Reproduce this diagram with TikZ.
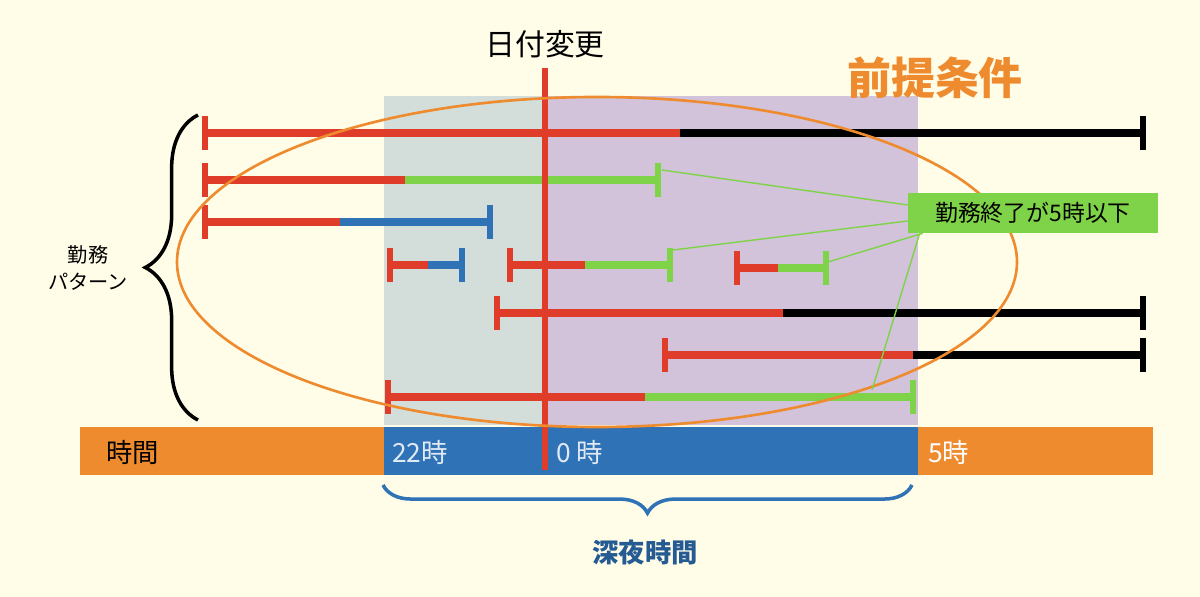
\documentclass[tikz,border=0pt]{standalone}
\usepackage{fontspec}
\setmainfont{Noto Sans CJK JP}
\usetikzlibrary{decorations.pathreplacing}
\definecolor{bg}{HTML}{FFFDE8}
\definecolor{rd}{HTML}{E03C2A}
\definecolor{gr}{HTML}{7ED348}
\definecolor{bl}{HTML}{2F72B6}
\definecolor{og}{HTML}{EE8B2F}
\definecolor{zoneA}{HTML}{D3DEDA}
\definecolor{zoneB}{HTML}{D3C3DA}
\tikzset{seg/.style={line width=4.5pt},tick/.style={line width=3pt},
 lbl/.style={font=\fontsize{15}{15}\selectfont}}
% \wbar{y}{x0}{x1}{x2}{colour}
\newcommand{\wbar}[5]{%
 \draw[seg,rd] (#2,#1) -- (#3,#1);
 \draw[seg,#5] (#3,#1) -- (#4,#1);
 \draw[tick,rd] (#2,#1-17) -- (#2,#1+17);
 \draw[tick,#5] (#4,#1-17) -- (#4,#1+17);}
\begin{document}
\begin{tikzpicture}[x=0.02cm,y=-0.02cm]
\fill[bg] (0,0) rectangle (1200,597);
\fill[zoneA] (384,96) rectangle (545,425);
\fill[zoneB] (545,96) rectangle (918,425);
\fill[og] (80,427) rectangle (1153,475);
\fill[bl] (384,427) rectangle (918,475);
\node[lbl,anchor=west] (jikan) at (100,452) {時間};
\node[lbl,anchor=west,text=white!85!bl] (t22) at (386,452) {22時};
\node[lbl,anchor=west,text=white!85!bl] (t0) at (550,452) {0 時};
\node[lbl,anchor=west,text=white] (t5) at (922,452) {5時};
\wbar{133}{205}{680}{1143}{black}
\wbar{180}{205}{405}{658}{gr}
\wbar{222}{205}{340}{490}{bl}
\wbar{265}{390}{428}{462}{bl}
\wbar{265}{510}{585}{670}{gr}
\wbar{268}{737}{778}{826}{gr}
\wbar{313}{497}{783}{1143}{black}
\wbar{355}{665}{913}{1143}{black}
\wbar{397}{388}{645}{913}{gr}
\draw[rd,line width=3pt] (545,68) -- (545,470);
\node[font=\fontsize{17}{17}\selectfont] (hiduke) at (545,44) {日付変更};
\draw[og,line width=1.5pt] (597,262) ellipse [x radius=420, y radius=165];
\node[font=\fontsize{25}{25}\selectfont\bfseries,text=og] (zentei) at (935,78) {前提条件};
\node[fill=gr,minimum width=250*0.02cm,minimum height=40*0.02cm,inner sep=2pt,
 font=\fontsize{13}{13}\selectfont] (box) at (1033,213) {勤務終了が5時以下};
\draw[gr,line width=0.8pt] (box.west) ++(0,-8) -- (662,170);
\draw[gr,line width=0.8pt] (box.west) ++(0,8) -- (673,250);
\draw[gr,line width=0.8pt] (box.south west) ++(15,0) -- (828,262);
\draw[gr,line width=0.8pt] (box.south west) ++(12,0) -- (872,390);
\draw[line width=2pt,decorate,decoration={brace,amplitude=30pt}] (198,420) -- (198,115);
\node[font=\fontsize{11.5}{15}\selectfont,align=center] (kinmu) at (88,268) {勤務\\パターン};
\draw[bl,line width=2pt,decorate,decoration={brace,amplitude=16pt}] (912,485) -- (383,485);
\node[font=\fontsize{15}{15}\selectfont\bfseries,text=bl!80!black] (shinya) at (645,552) {深夜時間};
\end{tikzpicture}
\end{document}
